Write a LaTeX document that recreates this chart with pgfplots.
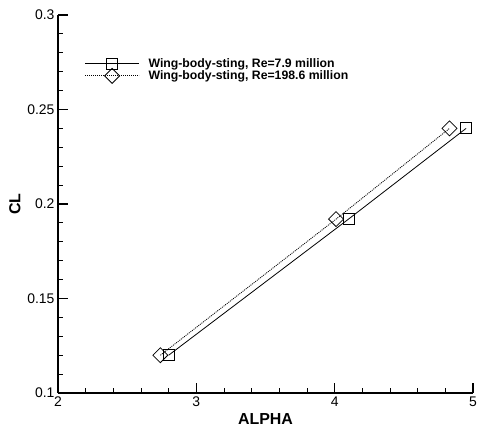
\documentclass[border=0pt]{standalone}
\usepackage{pgfplots}
\pgfplotsset{compat=1.18}
\usepackage{fontspec}
\setmainfont{Liberation Sans}
\begin{document}
\begin{tikzpicture}
\useasboundingbox (-58bp,-38bp) rectangle (420bp,393bp);
\begin{axis}[
  at={(0,0)}, anchor=south west,
  scale only axis, width=415bp, height=378bp,
  xmin=2, xmax=5, ymin=0.1, ymax=0.3,
  axis x line=bottom, axis y line=left,
  axis line style={-, line width=1.8bp},
  xtick={2,3,4,5}, xticklabels={2,3,4,5},
  ytick={0.1,0.15,0.2,0.25,0.3}, yticklabels={0.1,0.15,0.2,0.25,0.3},
  minor x tick num=4, minor y tick num=4,
  tick align=inside,
  major tick length=10bp, minor tick length=5bp,
  major tick style={line width=1.6bp, black},
  minor tick style={line width=0.9bp, black},
  tick label style={font=\fontsize{14}{16}\selectfont},
  /pgf/number format/assume math mode=true,
  xlabel={\textbf{ALPHA}}, ylabel={\textbf{CL}},
  label style={font=\fontsize{16}{18}\selectfont},
  legend cell align=left,
  legend style={at={(rel axis cs:0.064,0.886)}, anchor=north west,
    draw=none, fill=none, inner sep=0pt, row sep=-0.9bp,
    nodes={inner sep=0.5bp, text height=8.5bp, text depth=0.5bp},
    /tikz/every odd column/.append style={column sep=8.5bp},
    font=\bfseries\fontsize{12.3}{13}\selectfont},
  legend image code/.code={\draw[mark repeat=2,mark phase=2,#1] plot coordinates {(0bp,0bp)(27bp,0bp)(54bp,0bp)};},
]
\addplot[black, line width=0.8bp, mark=square, mark size=5.5bp, mark options={solid, line width=0.8bp}]
 coordinates {(2.80,0.1200) (4.10,0.1920) (4.95,0.2400)};
\addlegendentry{Wing-body-sting, Re=7.9 million}
\addplot[black, line width=0.8bp, dash pattern=on 1bp off 1bp, mark=square, mark size=5.3bp, mark options={solid, rotate=45, line width=0.8bp}]
 coordinates {(2.74,0.1200) (4.01,0.1920) (4.83,0.2400)};
\addlegendentry{Wing-body-sting, Re=198.6 million}
\end{axis}
\end{tikzpicture}
\end{document}
